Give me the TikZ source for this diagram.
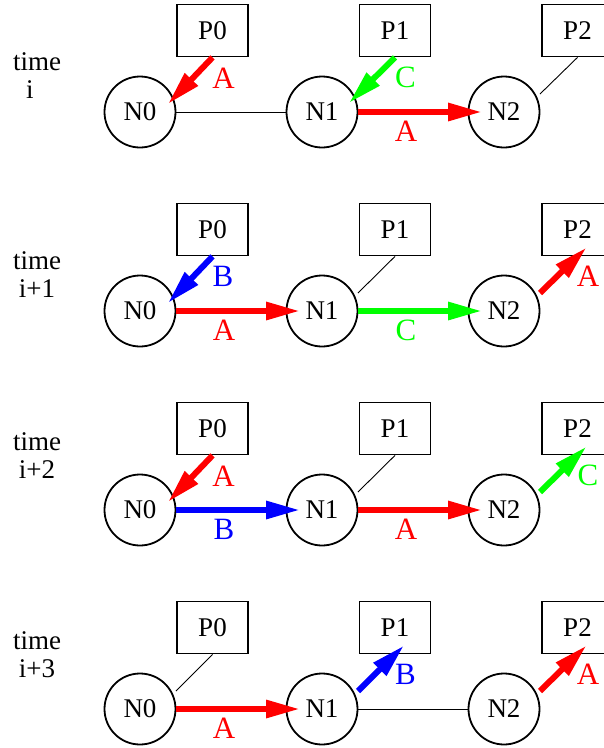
\documentclass[tikz,border=0pt]{standalone}
\usepackage{fontspec}
\setmainfont{Liberation Serif}
\usetikzlibrary{arrows.meta}
\begin{document}
\begin{tikzpicture}[x=1pt,y=-1pt,
  every node/.style={font=\fontsize{27}{28}\selectfont},
  nnode/.style={circle,draw,line width=1.8pt,minimum size=71pt,inner sep=0pt},
  pbox/.style={rectangle,draw,line width=1.8pt,minimum width=71pt,minimum height=52pt,inner sep=0pt},
  thinl/.style={line width=0.9pt},
  fat/.style={line width=6pt,-{Triangle[length=34pt,width=17pt]}},
  lbl/.style={inner sep=0pt,font=\fontsize{31}{32}\selectfont},
  tlbl/.style={inner sep=0pt,anchor=base},
]
\useasboundingbox (0,0) rectangle (604,748);

% ---------- row 1 (time i)
\node[tlbl] (T1) at (37,70) {time};
\node[tlbl] (T1b) at (30,98) {i};
\node[nnode] (N0a) at (140,112) {N0};
\node[nnode] (N1a) at (322,112) {N1};
\node[nnode] (N2a) at (504,112) {N2};
\node[pbox] (P0a) at (212.5,30.5) {P0};
\node[pbox] (P1a) at (395,30.5) {P1};
\node[pbox] (P2a) at (577.5,30.5) {P2};
\draw[thinl] (N0a) -- (N1a);
\draw[thinl] (P2a.south) -- ([shift={(36,-18)}]N2a.center);
\draw[fat,red] (P0a.south) -- ([shift={(28,-8)}]N0a.center);
\draw[fat,green] (P1a.south) -- ([shift={(27,-9)}]N1a.center);
\draw[fat,red] (N1a.east) -- ([shift={(-22,0)}]N2a.center);
\node[lbl,red] (L1a) at ([shift={(11,48)}]P0a.center) {A};
\node[lbl,green] (L1b) at ([shift={(10.5,47)}]P1a.center) {C};
\node[lbl,red] (L1c) at ([shift={(84,19)}]N1a.center) {A};

% ---------- row 2 (time i+1)
\node[tlbl] (T2) at (37,269) {time};
\node[tlbl] (T2b) at (37,297) {i+1};
\node[nnode] (N0b) at (140,311) {N0};
\node[nnode] (N1b) at (322,311) {N1};
\node[nnode] (N2b) at (504,311) {N2};
\node[pbox] (P0b) at (212.5,229.5) {P0};
\node[pbox] (P1b) at (395,229.5) {P1};
\node[pbox] (P2b) at (577.5,229.5) {P2};
\draw[thinl] (P1b.south) -- ([shift={(36,-18)}]N1b.center);
\draw[fat,blue] (P0b.south) -- ([shift={(28,-8)}]N0b.center);
\draw[fat,red] (N0b.east) -- ([shift={(-22,0)}]N1b.center);
\draw[fat,green] (N1b.east) -- ([shift={(-22,0)}]N2b.center);
\draw[fat,red] ([shift={(36,-18)}]N2b.center) -- ([shift={(9,18)}]P2b.center);
\node[lbl,blue] (L2a) at ([shift={(10.5,47)}]P0b.center) {B};
\node[lbl,red] (L2b) at ([shift={(84,19)}]N0b.center) {A};
\node[lbl,green] (L2c) at ([shift={(84,19)}]N1b.center) {C};
\node[lbl,red] (L2d) at ([shift={(10.5,47)}]P2b.center) {A};

% ---------- row 3 (time i+2)
\node[tlbl] (T3) at (37,450) {time};
\node[tlbl] (T3b) at (37,478) {i+2};
\node[nnode] (N0c) at (140,510) {N0};
\node[nnode] (N1c) at (322,510) {N1};
\node[nnode] (N2c) at (504,510) {N2};
\node[pbox] (P0c) at (212.5,428.5) {P0};
\node[pbox] (P1c) at (395,428.5) {P1};
\node[pbox] (P2c) at (577.5,428.5) {P2};
\draw[thinl] (P1c.south) -- ([shift={(36,-18)}]N1c.center);
\draw[fat,red] (P0c.south) -- ([shift={(28,-8)}]N0c.center);
\draw[fat,blue] (N0c.east) -- ([shift={(-22,0)}]N1c.center);
\draw[fat,red] (N1c.east) -- ([shift={(-22,0)}]N2c.center);
\draw[fat,green] ([shift={(36,-18)}]N2c.center) -- ([shift={(9,18)}]P2c.center);
\node[lbl,red] (L3a) at ([shift={(11,48)}]P0c.center) {A};
\node[lbl,blue] (L3b) at ([shift={(84,19)}]N0c.center) {B};
\node[lbl,red] (L3c) at ([shift={(84,19)}]N1c.center) {A};
\node[lbl,green] (L3d) at ([shift={(10.5,47)}]P2c.center) {C};

% ---------- row 4 (time i+3)
\node[tlbl] (T4) at (37,649) {time};
\node[tlbl] (T4b) at (37,677) {i+3};
\node[nnode] (N0d) at (140,709) {N0};
\node[nnode] (N1d) at (322,709) {N1};
\node[nnode] (N2d) at (504,709) {N2};
\node[pbox] (P0d) at (212.5,627.5) {P0};
\node[pbox] (P1d) at (395,627.5) {P1};
\node[pbox] (P2d) at (577.5,627.5) {P2};
\draw[thinl] (P0d.south) -- ([shift={(36,-18)}]N0d.center);
\draw[thinl] (N1d) -- (N2d);
\draw[fat,red] (N0d.east) -- ([shift={(-22,0)}]N1d.center);
\draw[fat,blue] ([shift={(36,-18)}]N1d.center) -- ([shift={(9,18)}]P1d.center);
\draw[fat,red] ([shift={(36,-18)}]N2d.center) -- ([shift={(9,18)}]P2d.center);
\node[lbl,red] (L4a) at ([shift={(84,19)}]N0d.center) {A};
\node[lbl,blue] (L4b) at ([shift={(10.5,47)}]P1d.center) {B};
\node[lbl,red] (L4c) at ([shift={(10.5,47)}]P2d.center) {A};
\end{tikzpicture}
\end{document}
